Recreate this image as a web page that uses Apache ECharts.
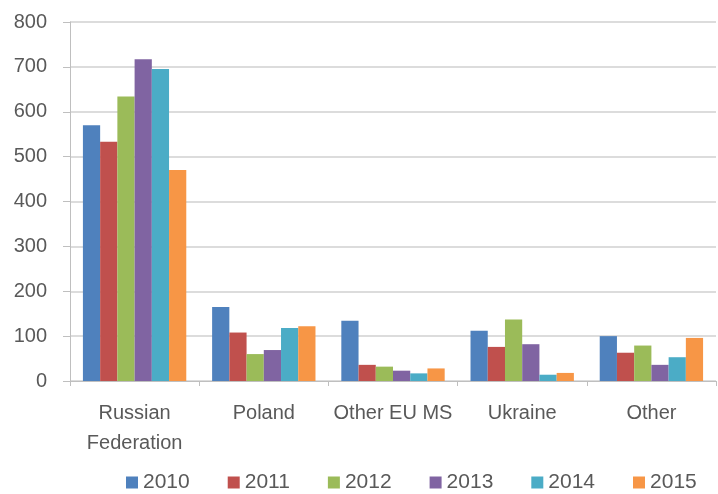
<!DOCTYPE html>
<html><head><meta charset="utf-8">
<script src="https://cdn.jsdelivr.net/npm/echarts@6/dist/echarts.min.js"></script>
<style>html,body{margin:0;padding:0;background:#fff}#c{width:718px;height:494px}</style>
</head><body><div id="c"></div>
<script>
const categories = ['Russian\nFederation', 'Poland', 'Other EU MS', 'Ukraine', 'Other'];
const years = ['2010', '2011', '2012', '2013', '2014', '2015'];
const v2010 = [570, 165, 134, 112, 100];
const v2011 = [533, 108, 36, 76, 63];
const v2012 = [634, 60, 32, 137, 79];
const v2013 = [717, 69, 23, 82, 36];
const v2014 = [695, 118, 17, 14, 53];
const v2015 = [470, 122, 28, 18, 96];
const yTicks = [0, 100, 200, 300, 400, 500, 600, 700, 800];
const colors = ['#4F81BD', '#C0504D', '#9BBB59', '#8064A2', '#4BACC6', '#F79646'];
const values = [v2010, v2011, v2012, v2013, v2014, v2015];

const chart = echarts.init(document.getElementById('c'));
chart.setOption({
  animation: false,
  color: colors,
  textStyle: { fontFamily: 'Liberation Sans, Arial, sans-serif' },
  grid: { left: 70, right: 2, top: 22, bottom: 113, containLabel: false },
  legend: {
    data: years, top: 472, left: 126, padding: 0,
    itemWidth: 12, itemHeight: 12, itemGap: 38,
    icon: 'rect',
    textStyle: { color: '#595959', fontSize: 21 }
  },
  xAxis: {
    type: 'category', data: categories,
    axisLine: { lineStyle: { color: '#bfbfbf', width: 1 } },
    axisTick: { show: true, length: 5, lineStyle: { color: '#bfbfbf' } },
    axisLabel: { color: '#595959', fontSize: 20, lineHeight: 30, margin: 17, interval: 0 }
  },
  yAxis: {
    type: 'value', min: yTicks[0], max: yTicks[yTicks.length - 1], interval: 100,
    axisLine: { show: true, lineStyle: { color: '#bfbfbf', width: 1 } },
    axisTick: { show: true, length: 7, lineStyle: { color: '#bfbfbf' } },
    axisLabel: { color: '#595959', fontSize: 20, margin: 23 },
    splitLine: { lineStyle: { color: '#d0d0d0', width: 1.5 } }
  },
  series: years.map((y, i) => ({
    name: y, type: 'bar', data: values[i],
    barGap: '0%', barCategoryGap: '20%'
  }))
});
</script></body></html>
